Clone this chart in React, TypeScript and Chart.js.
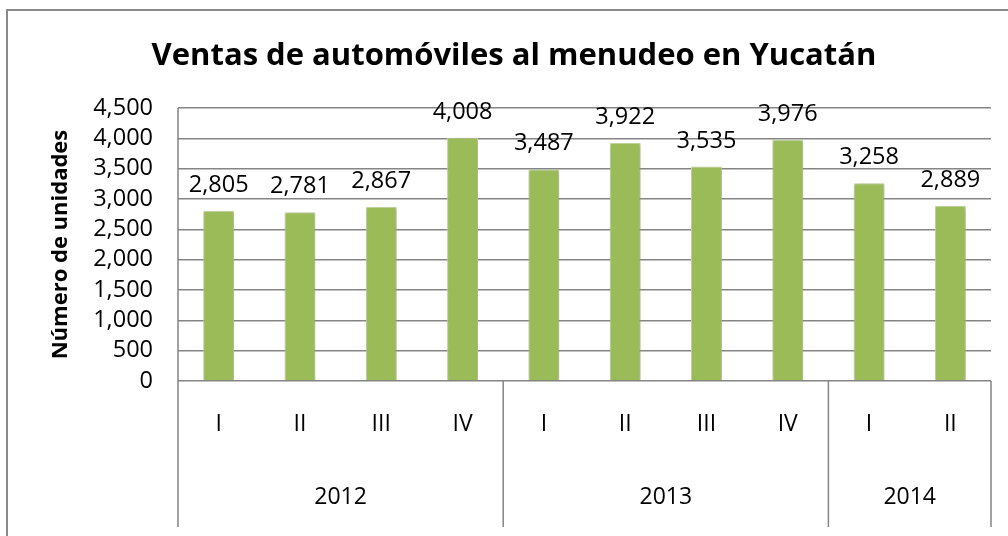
import { useEffect, useRef } from 'react';
import { Chart, registerables } from 'chart.js';

Chart.register(...registerables);

const quarterLabels = ['I', 'II', 'III', 'IV', 'I', 'II', 'III', 'IV', 'I', 'II'];
const yearLabels = ['2012', '2013', '2014'];
const yearSpans = [4, 4, 2];
const salesValues = [2805, 2781, 2867, 4008, 3487, 3922, 3535, 3976, 3258, 2889];
const yMin = 0;
const yMax = 4500;
const yStep = 500;

const TITLE = 'Ventas de automóviles al menudeo en Yucatán';
const Y_TITLE = 'Número de unidades';
const FONT = '"Open Sans", "Noto Sans", sans-serif';
const GRID = '#858585';

const fmt = (v: number) => v.toLocaleString('en-US');

Chart.defaults.font.family = FONT;

const decorPlugin = {
  id: 'decor',
  beforeDatasetsDraw(chart: any) {
    const ctx = chart.ctx;
    ctx.save();
    ctx.shadowColor = 'rgba(0,0,0,0.28)';
    ctx.shadowBlur = 4;
    ctx.shadowOffsetX = 1;
    ctx.shadowOffsetY = 1;
  },
  afterDatasetsDraw(chart: any) {
    const ctx = chart.ctx;
    ctx.restore();
    const meta = chart.getDatasetMeta(0);
    ctx.save();
    ctx.font = `23.5px ${FONT}`;
    ctx.fillStyle = '#000';
    ctx.textAlign = 'center';
    ctx.textBaseline = 'alphabetic';
    meta.data.forEach((bar: any, i: number) => {
      ctx.fillText(fmt(salesValues[i]), bar.x, bar.y - 19);
    });
    ctx.restore();
  },
  afterDraw(chart: any) {
    const ctx = chart.ctx;
    const area = chart.chartArea;
    ctx.save();
    // outer border
    ctx.strokeStyle = '#8a8a8a';
    ctx.lineWidth = 2;
    ctx.beginPath();
    ctx.moveTo(7, chart.height + 2);
    ctx.lineTo(7, 10);
    ctx.lineTo(chart.width + 2, 10);
    ctx.stroke();

    // title
    ctx.fillStyle = '#000';
    ctx.font = `bold 31px ${FONT}`;
    ctx.textAlign = 'center';
    ctx.textBaseline = 'alphabetic';
    ctx.fillText(TITLE, 514, 65);

    // y title
    ctx.save();
    ctx.translate(67, (area.top + area.bottom) / 2);
    ctx.rotate(-Math.PI / 2);
    ctx.font = `bold 22px ${FONT}`;
    ctx.fillText(Y_TITLE, 0, 0);
    ctx.restore();

    // axis structure lines
    const bottomY = 527;
    ctx.strokeStyle = GRID;
    ctx.lineWidth = 1.5;
    ctx.beginPath();
    ctx.moveTo(area.left, area.top);
    ctx.lineTo(area.left, bottomY);
    const n = quarterLabels.length;
    let cum = 0;
    const bounds: number[] = [area.left];
    yearSpans.forEach((span) => {
      cum += span;
      const x = area.left + ((area.right - area.left) * cum) / n;
      bounds.push(x);
      ctx.moveTo(x, area.bottom);
      ctx.lineTo(x, bottomY);
    });
    ctx.stroke();

    // year labels
    ctx.font = `23px ${FONT}`;
    ctx.textAlign = 'center';
    ctx.textBaseline = 'middle';
    yearLabels.forEach((lab, i) => {
      ctx.fillText(lab, (bounds[i] + bounds[i + 1]) / 2, 497);
    });
    ctx.restore();
  },
};

export default function App() {
  const ref = useRef<HTMLCanvasElement | null>(null);
  useEffect(() => {
    if (!ref.current) return;
    const chart = new Chart(ref.current, {
      type: 'bar',
      data: {
        labels: quarterLabels,
        datasets: [
          {
            data: salesValues,
            backgroundColor: '#9bbb59',
            borderColor: '#cddda9',
            borderWidth: 1,
            barPercentage: 0.38,
            categoryPercentage: 1,
          },
        ],
      },
      options: {
        animation: false,
        responsive: true,
        maintainAspectRatio: false,
        layout: { padding: { top: 108, right: 17, left: 0, bottom: 0 } },
        plugins: {
          legend: { display: false },
          tooltip: { enabled: false },
          title: { display: false },
        },
        scales: {
          x: {
            afterFit: (s: any) => {
              s.height = 155;
            },
            grid: { display: false, drawTicks: false },
            border: { display: false },
            ticks: {
              autoSkip: false,
              maxRotation: 0,
              padding: 30,
              color: '#000',
              font: { family: FONT, size: 23 },
            },
          },
          y: {
            min: yMin,
            max: yMax,
            afterFit: (s: any) => {
              s.width = 178;
            },
            grid: { color: GRID, lineWidth: 1.5, drawTicks: false },
            border: { display: false },
            ticks: {
              stepSize: yStep,
              autoSkip: false,
              padding: 25,
              color: '#000',
              font: { family: FONT, size: 23.5 },
              callback: (v: any) => fmt(Number(v)),
            },
          },
        },
      },
      plugins: [decorPlugin],
    });
    return () => chart.destroy();
  }, []);
  return (
    <div style={{ position: 'fixed', left: 0, top: 0, width: 1008, height: 536, background: '#fff' }}>
      <canvas ref={ref} />
    </div>
  );
}
